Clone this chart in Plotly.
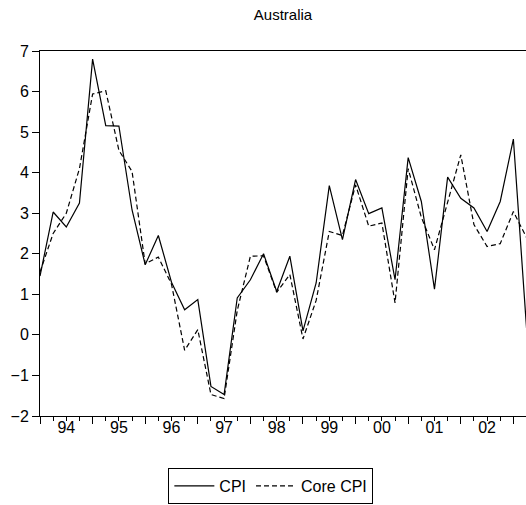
import plotly.graph_objects as go

quarters = [f"{y}Q{q}" for y in range(1994, 2004) for q in range(1, 5)][:38]
cpi = [1.45, 3.03, 2.66, 3.25,
       6.80, 5.16, 5.15, 3.08,
       1.73, 2.45, 1.30, 0.62,
       0.87, -1.27, -1.47, 0.91,
       1.36, 2.00, 1.07, 1.94,
       0.10, 1.28, 3.68, 2.35,
       3.83, 2.99, 3.13, 1.36,
       4.37, 3.29, 1.13, 3.89,
       3.37, 3.13, 2.55, 3.29,
       4.83, 0.17]
core_cpi = [1.55, 2.50, 3.00, 4.10,
            5.94, 6.02, 4.55, 4.03,
            1.75, 1.92, 1.25, -0.38,
            0.13, -1.47, -1.57, 0.60,
            1.94, 1.95, 1.05, 1.49,
            -0.10, 0.85, 2.55, 2.45,
            3.70, 2.68, 2.76, 0.79,
            4.10, 2.90, 2.10, 3.30,
            4.44, 2.72, 2.18, 2.25,
            3.04, 2.40]
year_labels = ["94", "95", "96", "97", "98", "99", "00", "01", "02"]

idx = list(range(len(quarters)))
year_starts = [i for i in idx if i % 4 == 0]
year_centers = [4 * k + 2 for k in range(len(year_labels))]
xrange = [0, 36.96]
font = "Liberation Sans, Arial, sans-serif"

fig = go.Figure()
fig.add_trace(go.Scatter(x=idx, y=cpi, mode="lines", name="CPI",
                         line=dict(color="black", width=1.2)))
fig.add_trace(go.Scatter(x=idx, y=core_cpi, mode="lines", name="Core CPI",
                         line=dict(color="black", width=1.2, dash="5px,3px")))
fig.add_trace(go.Scatter(x=year_centers, y=[None] * len(year_centers), xaxis="x2",
                         mode="lines", showlegend=False, hoverinfo="skip"))

fig.update_layout(
    width=526, height=505,
    margin=dict(l=40, r=0, t=51, b=89),
    paper_bgcolor="white", plot_bgcolor="white",
    font=dict(family=font, size=16, color="black"),
    title=dict(text="Australia", x=0.538, xanchor="center", y=0.970, yanchor="middle",
               font=dict(size=15)),
    xaxis=dict(range=xrange, tickmode="array", tickvals=year_starts, showticklabels=False,
               ticks="outside", ticklen=7, tickwidth=1, tickcolor="black",
               minor=dict(tickmode="array", tickvals=idx, ticks="outside", ticklen=4,
                          tickwidth=1, tickcolor="black", showgrid=False),
               showline=True, linecolor="black", linewidth=1, mirror=True,
               showgrid=False, zeroline=False),
    xaxis2=dict(range=xrange, overlaying="x", anchor="y", side="bottom",
                tickmode="array", tickvals=year_centers, ticktext=year_labels,
                ticks="", showline=False, showgrid=False, zeroline=False,
                tickfont=dict(size=16)),
    yaxis=dict(range=[-2, 7], tickmode="array", tickvals=list(range(-2, 8)),
               ticks="outside", ticklen=7, tickwidth=1, tickcolor="black",
               showline=True, linecolor="black", linewidth=1, mirror=True,
               showgrid=False, zeroline=False, tickfont=dict(size=16)),
    legend=dict(orientation="h", x=0.475, xanchor="center", y=-0.1425, yanchor="top",
                bordercolor="black", borderwidth=1, bgcolor="white",
                font=dict(size=16), itemwidth=40),
)

fig.write_html("out.html", config={"displayModeBar": False},
               post_script="document.body.style.margin='0';document.body.style.overflow='hidden';")
